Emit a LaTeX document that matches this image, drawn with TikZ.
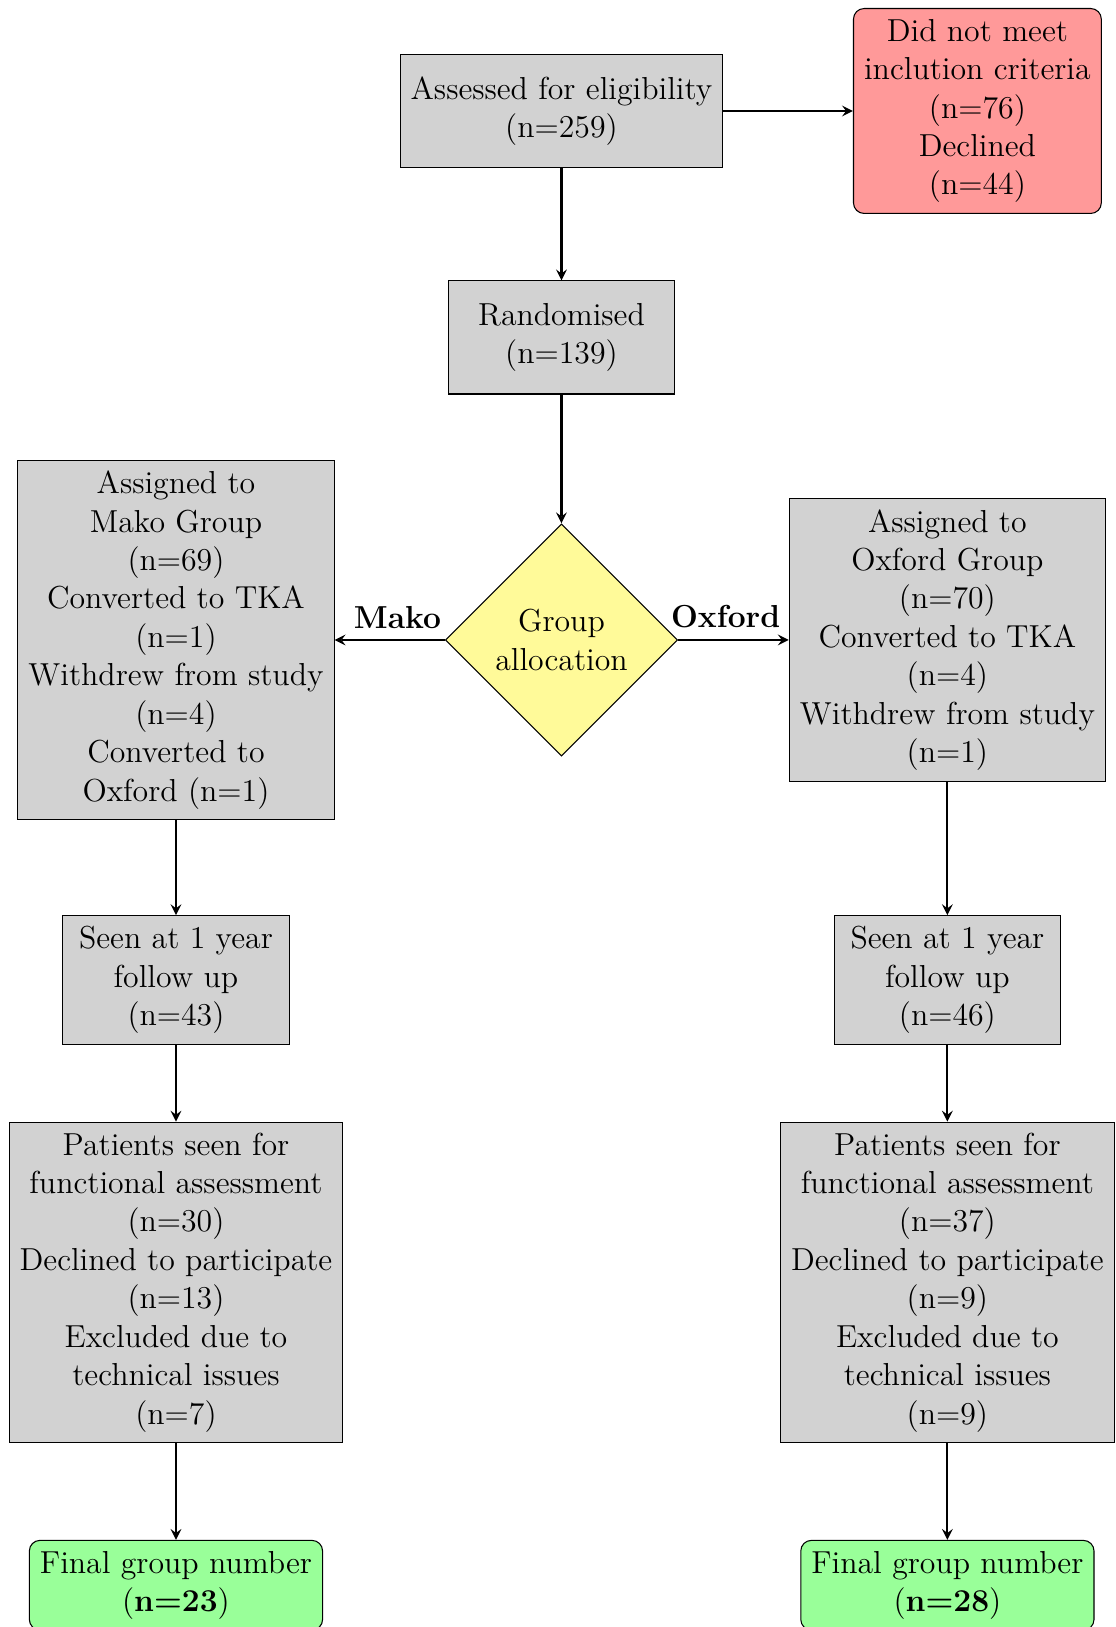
\documentclass[tikz,border=0pt,12pt]{standalone}
\usetikzlibrary{shapes.geometric,arrows}
\begin{document}
\begin{tikzpicture}
	\tikzset{block/.style={rectangle, draw, fill=gray!35, align=center, minimum width=3cm, minimum height=1.5cm},
		excluded/.style={rectangle, rounded corners, draw, fill=red!40, align=center},
		final/.style={rectangle, rounded corners, draw, fill=green!40, align=center},
		decision/.style={diamond, draw, fill=yellow!40, align=center, inner sep=1pt, minimum width=3.08cm, minimum height=3.08cm},
		line/.style={draw, thick, -stealth}}
	\useasboundingbox (0,0) rectangle (14.8,-21.58);
	% top of the chart
	\node[block] (assess) at (7.447,-1.472) {Assessed for eligibility\\(n=259)};
	\node[excluded] (excl) at (12.964,-1.472) {Did not meet\\inclution criteria\\(n=76)\\Declined\\(n=44)};
	\node[block] (rand) at (7.447,-4.476) {Randomised\\(n=139)};
	\node[decision] (alloc) at (7.447,-8.488) {Group\\allocation};
	% the two arms
	\node[block] (mako) at (2.334,-8.488) {Assigned to\\Mako Group\\(n=69)\\Converted to TKA\\(n=1)\\Withdrew from study\\(n=4)\\Converted to\\Oxford (n=1)};
	\node[block] (oxford) at (12.566,-8.488) {Assigned to\\Oxford Group\\(n=70)\\Converted to TKA\\(n=4)\\Withdrew from study\\(n=1)};
	\node[block] (seenM) at (2.334,-12.997) {Seen at 1 year\\follow up\\(n=43)};
	\node[block] (seenO) at (12.566,-12.997) {Seen at 1 year\\follow up\\(n=46)};
	\node[block] (funcM) at (2.334,-17.009) {Patients seen for\\functional assessment\\(n=30)\\Declined to participate\\(n=13)\\Excluded due to\\technical issues\\(n=7)};
	\node[block] (funcO) at (12.566,-17.009) {Patients seen for\\functional assessment\\(n=37)\\Declined to participate\\(n=9)\\Excluded due to\\technical issues\\(n=9)};
	\node[final, anchor=north] (finalM) at (2.334,-20.424) {Final group number\\(\textbf{n=23})};
	\node[final, anchor=north] (finalO) at (12.566,-20.424) {Final group number\\(\textbf{n=28})};
	% arrows
	\path[line] (assess) -- (excl);
	\path[line] (assess) -- (rand);
	\path[line] (rand) -- (alloc);
	\path[line] (alloc) -- node[above, pos=0.43] {\textbf{Mako}} (mako);
	\path[line] (alloc) -- node[above, pos=0.43] {\textbf{Oxford}} (oxford);
	\path[line] (mako) -- (seenM);
	\path[line] (oxford) -- (seenO);
	\path[line] (seenM) -- (funcM);
	\path[line] (seenO) -- (funcO);
	\path[line] (funcM) -- (finalM);
	\path[line] (funcO) -- (finalO);
\end{tikzpicture}
\end{document}
